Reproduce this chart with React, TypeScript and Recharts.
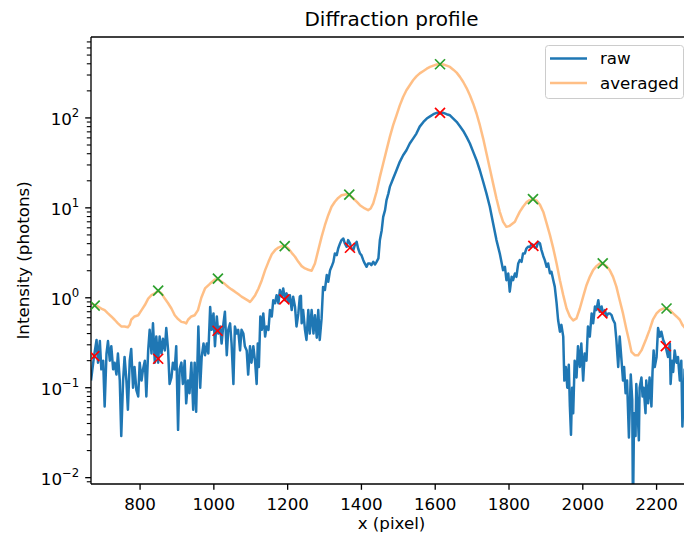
import { ComposedChart, Line, Scatter, XAxis, YAxis, ReferenceLine } from 'recharts'

// raw profile
const rawX = [
  667, 675, 682, 686, 691, 695, 700, 704, 709, 713, 718, 722, 727, 731, 736, 740, 745, 749, 754, 758,
  763, 767, 772, 776, 781, 785, 790, 795, 799, 804, 808, 813, 817, 822, 826, 831, 835, 840, 844, 849,
  853, 858, 862, 867, 871, 876, 880, 885, 889, 894, 898, 903, 907, 912, 916, 921, 925, 930, 934, 939,
  944, 948, 952, 958, 963, 967, 972, 976, 981, 985, 990, 994, 999, 1003, 1008, 1012, 1017, 1021, 1026, 1030,
  1035, 1039, 1044, 1048, 1053, 1057, 1062, 1066, 1071, 1075, 1080, 1084, 1089, 1093, 1098, 1102, 1107, 1112, 1116, 1119,
  1122, 1126, 1130, 1134, 1139, 1143, 1148, 1152, 1157, 1161, 1166, 1170, 1175, 1179, 1184, 1188, 1193, 1197, 1202, 1206,
  1211, 1215, 1220, 1224, 1229, 1233, 1236, 1238, 1242, 1247, 1251, 1256, 1260, 1265, 1270, 1274, 1279, 1283, 1287, 1292,
  1296, 1301, 1306, 1310, 1315, 1319, 1324, 1328, 1333, 1337, 1342, 1346, 1351, 1355, 1360, 1364, 1369, 1373, 1378, 1382,
  1387, 1391, 1396, 1400, 1405, 1409, 1414, 1418, 1423, 1427, 1432, 1437, 1441, 1446, 1450, 1455, 1459, 1464, 1468, 1473,
  1477, 1486, 1495, 1504, 1513, 1522, 1531, 1540, 1549, 1558, 1568, 1577, 1586, 1595, 1604, 1613, 1622, 1631, 1640, 1649,
  1658, 1667, 1676, 1685, 1694, 1703, 1712, 1721, 1730, 1739, 1748, 1757, 1766, 1775, 1784, 1789, 1793, 1798, 1802, 1807,
  1811, 1816, 1820, 1825, 1829, 1834, 1838, 1843, 1847, 1852, 1857, 1861, 1866, 1870, 1875, 1879, 1884, 1888, 1893, 1897,
  1902, 1906, 1911, 1915, 1920, 1924, 1929, 1933, 1938, 1942, 1947, 1950, 1954, 1958, 1962, 1965, 1968, 1971, 1974, 1978,
  1983, 1987, 1992, 1996, 2001, 2005, 2010, 2014, 2019, 2024, 2028, 2033, 2037, 2042, 2046, 2051, 2055, 2060, 2064, 2069,
  2073, 2078, 2082, 2087, 2091, 2096, 2100, 2105, 2109, 2112, 2116, 2120, 2125, 2130, 2134, 2136, 2139, 2143, 2145, 2148,
  2152, 2154, 2159, 2162, 2165, 2170, 2172, 2177, 2181, 2186, 2189, 2192, 2195, 2200, 2204, 2209, 2213, 2218, 2222, 2227,
  2231, 2236, 2238, 2242, 2245, 2249, 2254, 2258, 2263, 2267, 2270, 2276, 2284, 2292,
]
const rawY = [
  0.12, 0.22, 0.34, 0.19, 0.33, 0.16, 0.2, 0.062, 0.24, 0.33, 0.2, 0.29, 0.16, 0.19, 0.14, 0.24, 0.12, 0.029, 0.12, 0.22,
  0.12, 0.057, 0.2, 0.27, 0.1, 0.17, 0.094, 0.08, 0.19, 0.12, 0.16, 0.2, 0.08, 0.26, 0.44, 0.24, 0.52, 0.19, 0.37, 0.19,
  0.37, 0.24, 0.35, 0.26, 0.46, 0.26, 0.11, 0.13, 0.19, 0.16, 0.29, 0.034, 0.16, 0.19, 0.11, 0.2, 0.067, 0.12, 0.087, 0.19,
  0.057, 0.19, 0.054, 0.48, 0.1, 0.22, 0.31, 0.23, 0.31, 0.24, 0.79, 0.44, 0.67, 0.29, 0.62, 0.4, 0.48, 0.31, 0.52, 0.7,
  0.23, 0.44, 0.52, 0.31, 0.11, 0.48, 0.4, 0.44, 0.26, 0.44, 0.4, 0.29, 0.26, 0.14, 0.29, 0.19, 0.29, 0.19, 0.11, 0.31,
  0.17, 0.62, 0.44, 0.67, 0.37, 0.48, 0.44, 0.73, 0.62, 0.94, 0.87, 1.07, 0.87, 1.22, 1.03, 1.27, 0.94, 1.12, 0.9, 1.07,
  0.73, 1.03, 0.79, 0.48, 0.67, 1.03, 1.05, 0.52, 0.73, 0.44, 0.34, 0.73, 0.4, 0.73, 0.4, 0.64, 0.36, 0.73, 0.34, 0.59,
  1.32, 1.22, 1.79, 1.51, 2.03, 2.21, 2.51, 3.11, 2.98, 3.53, 4.02, 4.38, 4.56, 4.02, 3.69, 4.38, 4.02, 3.53, 3.39, 3.85,
  4.19, 3.53, 3.11, 2.98, 2.62, 2.41, 2.21, 2.41, 2.41, 2.31, 2.51, 2.35, 2.51, 2.74, 4.38, 5.65, 7.94, 9.42, 12.2, 14.4,
  17.1, 21.2, 26.2, 32.5, 38.5, 43.7, 51.9, 58.9, 67, 80, 90.3, 98.4, 104, 110, 114, 112, 114, 110, 107, 98.4,
  90.4, 80.8, 71.7, 61.5, 51.9, 41.9, 33.9, 26.2, 19.5, 14.4, 10.3, 6.7, 4.38, 3.11, 2.03, 2.21, 1.57, 1.86, 1.17, 1.71,
  1.57, 1.86, 1.71, 2.41, 2.62, 2.51, 3.11, 3.11, 3.53, 3.7, 3.69, 3.95, 3.85, 3.6, 3.69, 4.19, 4.02, 3.39, 2.9, 2.62,
  2.21, 2.41, 1.87, 1.95, 1.57, 1.33, 0.87, 0.57, 0.42, 0.5, 0.37, 0.12, 0.17, 0.1, 0.18, 0.062, 0.03, 0.1, 0.052, 0.2,
  0.13, 0.29, 0.17, 0.31, 0.12, 0.24, 0.2, 0.48, 0.37, 0.67, 0.52, 0.8, 0.73, 0.94, 0.7, 0.8, 0.67, 0.73, 0.62, 0.67,
  0.67, 0.64, 0.57, 0.52, 0.34, 0.17, 0.37, 0.2, 0.12, 0.17, 0.087, 0.12, 0.028, 0.14, 0.073, 0.004, 0.052, 0.029, 0.11, 0.062,
  0.026, 0.1, 0.13, 0.08, 0.1, 0.052, 0.12, 0.067, 0.13, 0.062, 0.15, 0.26, 0.17, 0.22, 0.46, 0.37, 0.42, 0.34, 0.31, 0.26,
  0.22, 0.31, 0.11, 0.2, 0.15, 0.26, 0.19, 0.22, 0.12, 0.2, 0.037, 0.16, 0.13, 0.18,
]

// averaged profile
const avgX = [
  667, 677, 686, 695, 704, 713, 722, 731, 740, 749, 758, 767, 772, 776, 785, 795, 804, 813, 822, 831,
  840, 849, 858, 867, 876, 885, 894, 903, 912, 921, 925, 930, 939, 948, 957, 966, 976, 990, 1003, 1012,
  1021, 1030, 1039, 1048, 1057, 1066, 1075, 1084, 1093, 1098, 1102, 1112, 1121, 1130, 1139, 1148, 1157, 1166, 1175, 1184,
  1193, 1202, 1211, 1220, 1229, 1238, 1247, 1256, 1265, 1274, 1283, 1292, 1301, 1310, 1319, 1328, 1337, 1346, 1360, 1369,
  1378, 1387, 1396, 1409, 1418, 1425, 1432, 1441, 1450, 1459, 1468, 1477, 1486, 1495, 1504, 1513, 1522, 1531, 1540, 1549,
  1558, 1568, 1577, 1586, 1595, 1604, 1613, 1622, 1631, 1640, 1649, 1658, 1667, 1676, 1685, 1694, 1703, 1712, 1721, 1730,
  1739, 1748, 1757, 1766, 1775, 1784, 1793, 1802, 1816, 1820, 1829, 1838, 1847, 1856, 1865, 1875, 1884, 1893, 1902, 1911,
  1920, 1929, 1938, 1947, 1956, 1965, 1974, 1983, 1992, 2001, 2010, 2019, 2028, 2037, 2046, 2055, 2064, 2073, 2082, 2091,
  2100, 2109, 2118, 2125, 2132, 2141, 2150, 2159, 2172, 2181, 2190, 2200, 2209, 2218, 2227, 2236, 2245, 2254, 2263, 2270,
  2283, 2296,
]
const avgY = [
  0.87, 0.83, 0.8, 0.76, 0.73, 0.67, 0.62, 0.57, 0.52, 0.48, 0.48, 0.47, 0.5, 0.57, 0.62, 0.64, 0.73, 0.83, 0.98, 1.07,
  1.12, 1.2, 1.12, 0.98, 0.87, 0.76, 0.64, 0.58, 0.54, 0.53, 0.52, 0.57, 0.62, 0.64, 0.73, 1.0, 1.27, 1.44, 1.6, 1.6,
  1.51, 1.42, 1.32, 1.24, 1.17, 1.1, 1.03, 0.98, 0.93, 0.9, 0.94, 1.07, 1.27, 1.57, 2.03, 2.51, 3.05, 3.39, 3.62, 3.75,
  3.78, 3.53, 3.16, 2.86, 2.51, 2.25, 2.12, 2.05, 2.0, 2.41, 3.39, 4.76, 6.41, 8.29, 10.3, 11.7, 12.9, 13.8, 14.2, 13.8,
  12.7, 11.7, 10.7, 9.84, 9.42, 9.84, 11.2, 15.1, 22.1, 31.1, 43.8, 61.5, 83, 107, 138, 171, 203, 231, 262, 290,
  313, 333, 353, 369, 382, 392, 395, 392, 382, 369, 344, 319, 286, 251, 215, 179, 144, 112, 83, 58.9,
  40.2, 27.4, 18.6, 12.7, 9.03, 6.99, 6.15, 6.31, 6.99, 7.62, 9.03, 10.3, 11.5, 12.2, 12.5, 12.0, 10.8, 9.0, 6.71, 4.98,
  3.54, 2.41, 1.57, 1.07, 0.76, 0.62, 0.56, 0.59, 0.76, 1.03, 1.38, 1.71, 2.03, 2.25, 2.41, 2.37, 2.25, 2.03, 1.71, 1.33,
  0.94, 0.67, 0.45, 0.34, 0.25, 0.23, 0.23, 0.26, 0.35, 0.44, 0.57, 0.67, 0.73, 0.76, 0.76, 0.73, 0.67, 0.62, 0.57, 0.5,
  0.43, 0.38,
]

// detected peaks
const avgPeakX = [677, 849, 1011, 1192, 1367, 1613, 1865, 2054, 2227]
const avgPeakY = [0.82, 1.2, 1.63, 3.75, 14.0, 395, 12.5, 2.41, 0.76]
const rawPeakX = [676, 849, 1010, 1191, 1369, 1613, 1866, 2053, 2225]
const rawPeakY = [0.225, 0.21, 0.43, 0.96, 3.6, 114, 3.78, 0.67, 0.29]

const xTicks = [800, 1000, 1200, 1400, 1600, 1800, 2000, 2200]
const yTicks = [
  0.009, 0.01, 0.02, 0.03, 0.04, 0.05, 0.06, 0.07, 0.08, 0.09,
  0.1, 0.2, 0.3, 0.4, 0.5, 0.6, 0.7, 0.8, 0.9,
  1, 2, 3, 4, 5, 6, 7, 8, 9,
  10, 20, 30, 40, 50, 60, 70, 80, 90,
  100, 200, 300, 400, 500, 600, 700,
]
const yMajorExp: Record<string, string> = { '0.01': '\u22122', '0.1': '\u22121', '1': '0', '10': '1', '100': '2' }
const xDomain = [667, 2296]
const yDomain = [0.0085, 794]

const rawData = rawX.map((x, i) => ({ x, y: rawY[i] }))
const avgData = avgX.map((x, i) => ({ x, y: avgY[i] }))
const avgPeaks = avgPeakX.map((x, i) => ({ x, y: avgPeakY[i] }))
const rawPeaks = rawPeakX.map((x, i) => ({ x, y: rawPeakY[i] }))

const FONT = 'DejaVu Sans'

const YTick = ({ x, y, payload }: any) => {
  const exp = yMajorExp[String(payload.value)]
  if (exp === undefined) {
    return <line x1={x - 4.2} x2={x} y1={y} y2={y} stroke="#000" strokeWidth={1.1} />
  }
  return (
    <g>
      <line x1={x - 5.8} x2={x} y1={y} y2={y} stroke="#000" strokeWidth={1.33} />
      <text x={x - 11.7} y={y + 7} textAnchor="end" fontSize={16.7} fontFamily={FONT} fill="#000">
        10<tspan dy={-7.5} fontSize={11.7}>{exp}</tspan>
      </text>
    </g>
  )
}

const cross = (color: string) => ({ cx, cy }: any) => {
  const r = 5
  return (
    <g>
      <line x1={cx - r} y1={cy - r} x2={cx + r} y2={cy + r} stroke={color} strokeWidth={1.67} />
      <line x1={cx - r} y1={cy + r} x2={cx + r} y2={cy - r} stroke={color} strokeWidth={1.67} />
    </g>
  )
}

export default function App() {
  return (
    <div style={{ position: 'absolute', left: 0, top: 0, width: 684, height: 536, overflow: 'hidden', background: '#fff', fontFamily: FONT }}>
      <ComposedChart width={700} height={536} margin={{ top: 37, right: 8, bottom: 22, left: 31 }}>
        <XAxis
          dataKey="x"
          type="number"
          domain={xDomain}
          ticks={xTicks}
          allowDataOverflow
          height={30}
          interval={0}
          tickSize={5.8}
          tickMargin={8.5}
          stroke="#000"
          axisLine={{ stroke: '#000', strokeWidth: 1.33 }}
          tickLine={{ stroke: '#000', strokeWidth: 1.33 }}
          tick={{ fill: '#000', fontSize: 16.7, fontFamily: FONT }}
        />
        <YAxis
          dataKey="y"
          type="number"
          scale="log"
          domain={yDomain}
          ticks={yTicks}
          allowDataOverflow
          width={60}
          interval={0}
          tickSize={0}
          tickMargin={0}
          tickLine={false}
          axisLine={{ stroke: '#000', strokeWidth: 1.33 }}
          tick={<YTick />}
        />
        <ReferenceLine y={yDomain[1]} stroke="#000" strokeWidth={1.33} />
        <Line
          data={rawData}
          dataKey="y"
          type="linear"
          stroke="#1f77b4"
          strokeWidth={2.5}
          strokeLinejoin="round"
          dot={false}
          isAnimationActive={false}
        />
        <Line
          data={avgData}
          dataKey="y"
          type="linear"
          stroke="#ff7f0e"
          strokeOpacity={0.5}
          strokeWidth={2.5}
          strokeLinejoin="round"
          dot={false}
          isAnimationActive={false}
        />
        <Scatter data={avgPeaks} shape={cross('#2ca02c')} isAnimationActive={false} />
        <Scatter data={rawPeaks} shape={cross('#ff0000')} isAnimationActive={false} />
      </ComposedChart>
      <svg width={684} height={536} style={{ position: 'absolute', left: 0, top: 0, pointerEvents: 'none' }}>
        <text x={391.5} y={26} textAnchor="middle" fontSize={20} fontFamily={FONT} fill="#000">
          Diffraction profile
        </text>
        <text x={391.5} y={529} textAnchor="middle" fontSize={16.7} fontFamily={FONT} fill="#000">
          x (pixel)
        </text>
        <text transform="translate(29,260.4) rotate(-90)" textAnchor="middle" fontSize={16.7} fontFamily={FONT} fill="#000">
          Intensity (photons)
        </text>
        <rect x={545.5} y={45.5} width={138} height={53} rx={3} fill="#fff" fillOpacity={0.8} stroke="#cccccc" strokeWidth={1} />
        <line x1={550} x2={587} y1={58.5} y2={58.5} stroke="#1f77b4" strokeWidth={2.5} />
        <line x1={550} x2={587} y1={83} y2={83} stroke="#ff7f0e" strokeOpacity={0.5} strokeWidth={2.5} />
        <text x={600} y={64} fontSize={16.7} fontFamily={FONT} fill="#000">raw</text>
        <text x={600} y={88.5} fontSize={16.7} fontFamily={FONT} fill="#000">averaged</text>
      </svg>
    </div>
  )
}
